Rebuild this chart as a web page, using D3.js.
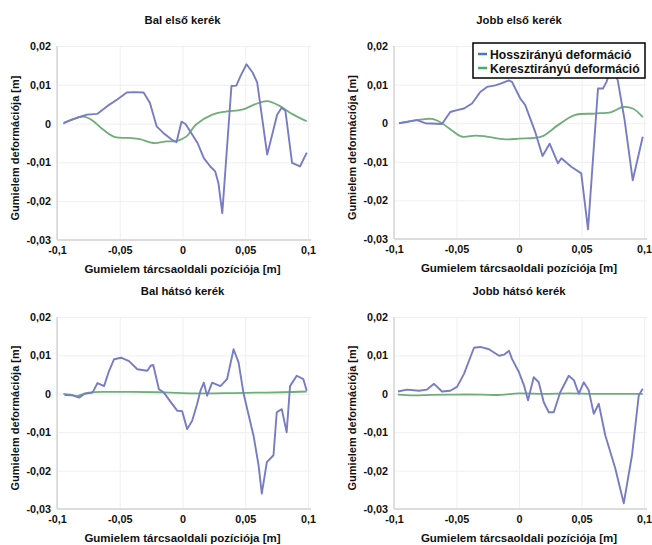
<!DOCTYPE html>
<html>
<head>
<meta charset="utf-8">
<script src="https://cdn.jsdelivr.net/npm/d3@7"></script>
<style>
  body { margin: 0; background: #fff; }
  svg { display: block; font-family: "Liberation Sans", Arial, sans-serif; font-weight: bold; }
</style>
</head>
<body>
<div id="chart"></div>
<script>
// data: [position (m), deformation (m)]
const balElsoHossz = [[-0.0946, 0.0002], [-0.084, 0.0015], [-0.076, 0.0023], [-0.068, 0.0025], [-0.060, 0.0045], [-0.052, 0.0062], [-0.0444, 0.008], [-0.039, 0.0081], [-0.031, 0.008], [-0.026, 0.0054], [-0.0206, -0.0007], [-0.0153, -0.0024], [-0.0087, -0.0041], [-0.0048, -0.0048], [-0.0008, 0.0005], [0.0024, -0.0001], [0.0053, -0.0016], [0.012, -0.005], [0.017, -0.0089], [0.022, -0.011], [0.026, -0.0123], [0.0286, -0.0153], [0.0317, -0.0231], [0.039, 0.0097], [0.0429, 0.0098], [0.0463, 0.0123], [0.051, 0.0153], [0.056, 0.0131], [0.0595, 0.0106], [0.0675, -0.008], [0.0754, 0.0023], [0.079, 0.0041], [0.082, 0.0033], [0.0873, -0.0101], [0.0937, -0.011], [0.099, -0.0075]];
const balElsoKereszt = [[-0.095, 0.0], [-0.087, 0.0012], [-0.079, 0.0018], [-0.0735, 0.0012], [-0.068, -0.0002], [-0.063, -0.0016], [-0.0537, -0.0035], [-0.0418, -0.0037], [-0.034, -0.004], [-0.0233, -0.005], [-0.0127, -0.0046], [-0.0048, -0.0045], [0.0032, -0.0033], [0.0106, -0.0003], [0.0238, 0.0023], [0.0344, 0.0031], [0.0476, 0.0036], [0.058, 0.005], [0.0675, 0.0058], [0.0767, 0.0047], [0.0873, 0.0025], [0.099, 0.0006]];

const jobbElsoHossz = [[-0.096, 0.0], [-0.0816, 0.0008], [-0.075, 0.0], [-0.0616, -0.0002], [-0.055, 0.0029], [-0.0496, 0.0034], [-0.044, 0.0038], [-0.0376, 0.0051], [-0.031, 0.0081], [-0.0256, 0.0094], [-0.019, 0.0098], [-0.0136, 0.0104], [-0.0082, 0.0111], [-0.0056, 0.0107], [0.001, 0.0064], [0.005, 0.0047], [0.013, -0.0023], [0.0188, -0.0085], [0.0245, -0.0053], [0.0312, -0.0104], [0.0339, -0.0091], [0.0418, -0.0113], [0.0498, -0.013], [0.0552, -0.0275], [0.0632, 0.009], [0.0672, 0.009], [0.07, 0.0107], [0.0745, 0.015], [0.079, 0.0111], [0.0845, 0.0008], [0.091, -0.0148], [0.099, -0.0035]];
const jobbElsoKereszt = [[-0.096, 0.0], [-0.0776, 0.001], [-0.0696, 0.0011], [-0.0616, 0.0], [-0.0536, -0.0019], [-0.0456, -0.0035], [-0.035, -0.0032], [-0.027, -0.0034], [-0.011, -0.0042], [0.0, -0.004], [0.0178, -0.0035], [0.0312, -0.0005], [0.0445, 0.0021], [0.0605, 0.0025], [0.0738, 0.0029], [0.0832, 0.0042], [0.091, 0.0038], [0.099, 0.0016]];

const balHatsoHossz = [[-0.094, -0.0003], [-0.0876, -0.0004], [-0.0823, -0.001], [-0.078, 0.0], [-0.0717, 0.0003], [-0.0677, 0.0028], [-0.0625, 0.002], [-0.0585, 0.006], [-0.0545, 0.009], [-0.049, 0.0094], [-0.0426, 0.0085], [-0.036, 0.0064], [-0.028, 0.006], [-0.0254, 0.0073], [-0.0233, 0.0075], [-0.0188, 0.0012], [-0.0148, 0.0003], [-0.0095, -0.0021], [-0.0042, -0.0044], [-0.0003, -0.0045], [0.0037, -0.0092], [0.0077, -0.007], [0.0116, -0.0027], [0.0143, 0.0008], [0.017, 0.0029], [0.0196, -0.0005], [0.0236, 0.0029], [0.0302, 0.002], [0.0355, 0.0038], [0.0407, 0.0116], [0.0447, 0.0081], [0.0487, 0.0], [0.0566, -0.0109], [0.0606, -0.0186], [0.0632, -0.026], [0.0672, -0.0178], [0.0725, -0.016], [0.0751, -0.0048], [0.0791, -0.004], [0.083, -0.01], [0.0857, 0.002], [0.091, 0.0047], [0.0963, 0.0038], [0.099, 0.0008]];
const balHatsoKereszt = [[-0.095, 0.0], [-0.089, -0.0002], [-0.084, -0.0006], [-0.079, 0.0], [-0.072, 0.0004], [-0.06, 0.0005], [-0.04, 0.0005], [-0.02, 0.0004], [0.0, 0.0002], [0.02, 0.0001], [0.04, 0.0002], [0.06, 0.0003], [0.08, 0.0004], [0.099, 0.0006]];

const jobbHatsoHossz = [[-0.0968, 0.0006], [-0.0896, 0.0011], [-0.080, 0.0008], [-0.0736, 0.0011], [-0.068, 0.0026], [-0.0616, 0.0006], [-0.055, 0.0008], [-0.0496, 0.0018], [-0.044, 0.0052], [-0.040, 0.0086], [-0.036, 0.012], [-0.031, 0.0122], [-0.024, 0.0116], [-0.016, 0.0099], [-0.012, 0.0102], [-0.008, 0.0112], [-0.0056, 0.0091], [0.0, 0.0056], [0.004, 0.0022], [0.0072, -0.0017], [0.0118, 0.0043], [0.0158, 0.003], [0.0198, -0.0022], [0.0238, -0.0048], [0.0278, -0.0048], [0.033, 0.0004], [0.0398, 0.0047], [0.044, 0.0035], [0.0478, 0.0], [0.0518, 0.003], [0.0558, 0.0009], [0.0598, -0.0052], [0.0638, -0.0026], [0.069, -0.0108], [0.077, -0.0194], [0.0838, -0.0285], [0.0904, -0.016], [0.0958, -0.0004], [0.099, 0.0013]];
const jobbHatsoKereszt = [[-0.0968, -0.0002], [-0.085, -0.0004], [-0.07, -0.0003], [-0.05, -0.0002], [-0.03, -0.0002], [-0.015, -0.0003], [0.0, 0.0001], [0.02, 0.0], [0.04, 0.0001], [0.06, 0.0], [0.08, 0.0], [0.099, 0.0]];

const panelTitles = ["Bal első kerék", "Jobb első kerék", "Bal hátsó kerék", "Jobb hátsó kerék"];
const seriesNames = ["Hosszirányú deformáció", "Keresztirányú deformáció"];
const xTicks = [-0.1, -0.05, 0, 0.05, 0.1];
const yTicks = [0.02, 0.01, 0, -0.01, -0.02, -0.03];
const xTitle = "Gumielem tárcsaoldali pozíciója [m]";
const yTitle = "Gumielem deformációja [m]";

const W = 652, H = 545;
const lineColor = "#787cc4", crossColor = "#70ad7b";
const legendBlue = "#3c7fc2", legendGreen = "#41ad6a";
const font = "Liberation Sans, Arial, sans-serif";

const svg = d3.select("#chart").append("svg")
    .attr("width", W).attr("height", H);

const fmt = d => d === 0 ? "0" : String(+d.toFixed(3)).replace(".", ",");

const panels = [
    {title: panelTitles[0], hossz: balElsoHossz, kereszt: balElsoKereszt, x0: 57, x1: 308, y0: 240, y1: 46},
    {title: panelTitles[1], hossz: jobbElsoHossz, kereszt: jobbElsoKereszt, x0: 394, x1: 644, y0: 239, y1: 46},
    {title: panelTitles[2], hossz: balHatsoHossz, kereszt: balHatsoKereszt, x0: 57, x1: 308, y0: 509, y1: 317},
    {title: panelTitles[3], hossz: jobbHatsoHossz, kereszt: jobbHatsoKereszt, x0: 394, x1: 644, y0: 509, y1: 317}
];

panels.forEach((p, i) => {
    const x = d3.scaleLinear().domain([-0.1, 0.1]).range([p.x0, p.x1]);
    const y = d3.scaleLinear().domain([-0.03, 0.02]).range([p.y0, p.y1]);
    const g = svg.append("g");
    const cx = (p.x0 + p.x1) / 2;

    // faint grid
    g.append("g")
        .attr("transform", `translate(0,${p.y0})`)
        .call(d3.axisBottom(x).tickValues(xTicks).tickSize(-(p.y0 - p.y1)).tickFormat(""))
        .call(s => s.select(".domain").remove())
        .call(s => s.selectAll("line").attr("stroke", "#efefef"));
    g.append("g")
        .attr("transform", `translate(${p.x0},0)`)
        .call(d3.axisLeft(y).tickValues(yTicks).tickSize(-(p.x1 - p.x0 + 3)).tickFormat(""))
        .call(s => s.select(".domain").remove())
        .call(s => s.selectAll("line").attr("stroke", "#efefef"));

    // frame lines
    g.append("line").attr("x1", p.x0).attr("x2", p.x0).attr("y1", p.y1).attr("y2", p.y0)
        .attr("stroke", "#d6d6d6").attr("stroke-width", 1.5);
    g.append("line").attr("x1", p.x0).attr("x2", p.x1 + 3).attr("y1", p.y0).attr("y2", p.y0)
        .attr("stroke", "#dcdcdc").attr("stroke-width", 2);

    // tick labels
    g.append("g")
        .attr("transform", `translate(${p.x0},0)`)
        .call(d3.axisLeft(y).tickValues(yTicks).tickSize(0).tickPadding(6).tickFormat(fmt))
        .call(s => s.select(".domain").remove())
        .call(s => s.selectAll("text").attr("font-size", 10.8).attr("font-weight", "bold")
            .attr("font-family", font).attr("fill", "#111"));
    g.append("g")
        .attr("transform", `translate(0,${p.y0})`)
        .call(d3.axisBottom(x).tickValues(xTicks).tickSize(0).tickPadding(6).tickFormat(fmt))
        .call(s => s.select(".domain").remove())
        .call(s => s.selectAll("text").attr("font-size", 10.8).attr("font-weight", "bold")
            .attr("font-family", font).attr("fill", "#111"));

    // titles
    g.append("text").attr("x", cx).attr("y", p.y1 - 22)
        .attr("text-anchor", "middle").attr("font-size", 11.3).attr("fill", "#111")
        .text(p.title);
    g.append("text").attr("x", cx).attr("y", p.y0 + 33)
        .attr("text-anchor", "middle").attr("font-size", 11.5).attr("fill", "#111")
        .text(xTitle);
    g.append("text")
        .attr("transform", `translate(${p.x0 - 38},${(p.y0 + p.y1) / 2 + 5}) rotate(-90)`)
        .attr("text-anchor", "middle").attr("font-size", 11).attr("fill", "#111")
        .text(yTitle);

    // blue trace is jagged in the source, green one is smooth
    const line = d3.line().x(d => x(d[0])).y(d => y(d[1]));
    const smooth = d3.line().x(d => x(d[0])).y(d => y(d[1])).curve(d3.curveCatmullRom.alpha(0.5));
    g.append("path").datum(p.kereszt).attr("d", smooth)
        .attr("fill", "none").attr("stroke", crossColor).attr("stroke-width", 1.8)
        .attr("stroke-linejoin", "round");
    g.append("path").datum(p.hossz).attr("d", line)
        .attr("fill", "none").attr("stroke", lineColor).attr("stroke-width", 1.9)
        .attr("stroke-linejoin", "round");
});

// legend on top-right panel
const lg = svg.append("g").attr("transform", "translate(473,43)");
lg.append("rect").attr("width", 172).attr("height", 35)
    .attr("fill", "#fff").attr("stroke", "#000").attr("stroke-width", 1.5);
seriesNames.forEach((n, i) => {
    lg.append("line").attr("x1", 5).attr("x2", 14).attr("y1", 11 + i * 14).attr("y2", 11 + i * 14)
        .attr("stroke", i === 0 ? legendBlue : legendGreen).attr("stroke-width", 2.5);
    lg.append("text").attr("x", 17).attr("y", 15.5 + i * 14)
        .attr("font-size", 12.2).attr("fill", "#111").text(n);
});
</script>
</body>
</html>
